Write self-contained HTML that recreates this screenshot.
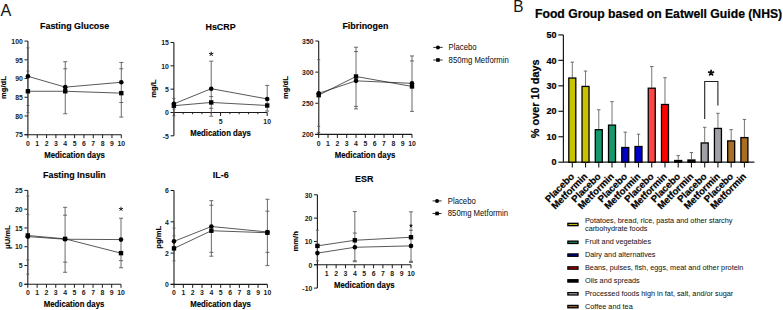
<!DOCTYPE html>
<html><head><meta charset="utf-8"><style>
html,body{margin:0;padding:0;background:#fff;}
body{width:783px;height:310px;overflow:hidden;font-family:"Liberation Sans", sans-serif;}
svg{display:block;}
text{stroke:#000;stroke-width:0.22px;paint-order:stroke;}
text.a{stroke-width:0.12px;}
text[font-weight="normal"]{stroke-width:0.04px;fill:#151515;}
text.tk{stroke-width:0;fill:#1a1a1a;}
</style></head><body>
<svg width="783" height="310" viewBox="0 0 783 310" font-family='"Liberation Sans", sans-serif'>
<rect width="783" height="310" fill="#fff"/>
<text x="0.60" y="16.00" font-size="16.2" font-weight="normal" text-anchor="start" fill="#000" >A</text>
<text x="0" y="0" font-size="15.4" font-weight="normal" text-anchor="start" fill="#000" transform="translate(513.20,12.30) scale(1,1.13)" >B</text>
<text x="0" y="0" font-size="8.9" font-weight="bold" text-anchor="middle" fill="#000" transform="translate(74.60,28.70) scale(1,1.11)" class="a">Fasting Glucose</text>
<text x="0" y="0" font-size="7.6" font-weight="bold" text-anchor="middle" fill="#000" class="a" transform="translate(4.90,87.60) rotate(-90)" dy="1.4">mg/dL</text>
<line x1="27.90" y1="41.10" x2="27.90" y2="134.70" stroke="#1a1a1a" stroke-width="1.1" />
<line x1="24.50" y1="41.10" x2="27.90" y2="41.10" stroke="#1a1a1a" stroke-width="1.0" />
<text x="0" y="0" font-size="6.9" font-weight="bold" text-anchor="end" fill="#000" transform="translate(22.80,43.85) scale(1,1.11)" class="tk">100</text>
<line x1="24.50" y1="59.82" x2="27.90" y2="59.82" stroke="#1a1a1a" stroke-width="1.0" />
<text x="0" y="0" font-size="6.9" font-weight="bold" text-anchor="end" fill="#000" transform="translate(22.80,62.57) scale(1,1.11)" class="tk">95</text>
<line x1="24.50" y1="78.54" x2="27.90" y2="78.54" stroke="#1a1a1a" stroke-width="1.0" />
<text x="0" y="0" font-size="6.9" font-weight="bold" text-anchor="end" fill="#000" transform="translate(22.80,81.29) scale(1,1.11)" class="tk">90</text>
<line x1="24.50" y1="97.26" x2="27.90" y2="97.26" stroke="#1a1a1a" stroke-width="1.0" />
<text x="0" y="0" font-size="6.9" font-weight="bold" text-anchor="end" fill="#000" transform="translate(22.80,100.01) scale(1,1.11)" class="tk">85</text>
<line x1="24.50" y1="115.98" x2="27.90" y2="115.98" stroke="#1a1a1a" stroke-width="1.0" />
<text x="0" y="0" font-size="6.9" font-weight="bold" text-anchor="end" fill="#000" transform="translate(22.80,118.73) scale(1,1.11)" class="tk">80</text>
<line x1="24.50" y1="134.70" x2="27.90" y2="134.70" stroke="#1a1a1a" stroke-width="1.0" />
<text x="0" y="0" font-size="6.9" font-weight="bold" text-anchor="end" fill="#000" transform="translate(22.80,137.45) scale(1,1.11)" class="tk">75</text>
<line x1="24.50" y1="134.70" x2="121.30" y2="134.70" stroke="#1a1a1a" stroke-width="1.1" />
<line x1="27.90" y1="134.70" x2="27.90" y2="138.20" stroke="#1a1a1a" stroke-width="1.0" />
<line x1="37.24" y1="134.70" x2="37.24" y2="138.20" stroke="#1a1a1a" stroke-width="1.0" />
<line x1="46.58" y1="134.70" x2="46.58" y2="138.20" stroke="#1a1a1a" stroke-width="1.0" />
<line x1="55.92" y1="134.70" x2="55.92" y2="138.20" stroke="#1a1a1a" stroke-width="1.0" />
<line x1="65.26" y1="134.70" x2="65.26" y2="138.20" stroke="#1a1a1a" stroke-width="1.0" />
<line x1="74.60" y1="134.70" x2="74.60" y2="138.20" stroke="#1a1a1a" stroke-width="1.0" />
<line x1="83.94" y1="134.70" x2="83.94" y2="138.20" stroke="#1a1a1a" stroke-width="1.0" />
<line x1="93.28" y1="134.70" x2="93.28" y2="138.20" stroke="#1a1a1a" stroke-width="1.0" />
<line x1="102.62" y1="134.70" x2="102.62" y2="138.20" stroke="#1a1a1a" stroke-width="1.0" />
<line x1="111.96" y1="134.70" x2="111.96" y2="138.20" stroke="#1a1a1a" stroke-width="1.0" />
<line x1="121.30" y1="134.70" x2="121.30" y2="138.20" stroke="#1a1a1a" stroke-width="1.0" />
<text x="0" y="0" font-size="6.9" font-weight="bold" text-anchor="middle" fill="#000" transform="translate(27.90,146.40) scale(1,1.11)" class="tk">0</text>
<text x="0" y="0" font-size="6.9" font-weight="bold" text-anchor="middle" fill="#000" transform="translate(37.24,146.40) scale(1,1.11)" class="tk">1</text>
<text x="0" y="0" font-size="6.9" font-weight="bold" text-anchor="middle" fill="#000" transform="translate(46.58,146.40) scale(1,1.11)" class="tk">2</text>
<text x="0" y="0" font-size="6.9" font-weight="bold" text-anchor="middle" fill="#000" transform="translate(55.92,146.40) scale(1,1.11)" class="tk">3</text>
<text x="0" y="0" font-size="6.9" font-weight="bold" text-anchor="middle" fill="#000" transform="translate(65.26,146.40) scale(1,1.11)" class="tk">4</text>
<text x="0" y="0" font-size="6.9" font-weight="bold" text-anchor="middle" fill="#000" transform="translate(74.60,146.40) scale(1,1.11)" class="tk">5</text>
<text x="0" y="0" font-size="6.9" font-weight="bold" text-anchor="middle" fill="#000" transform="translate(83.94,146.40) scale(1,1.11)" class="tk">6</text>
<text x="0" y="0" font-size="6.9" font-weight="bold" text-anchor="middle" fill="#000" transform="translate(93.28,146.40) scale(1,1.11)" class="tk">7</text>
<text x="0" y="0" font-size="6.9" font-weight="bold" text-anchor="middle" fill="#000" transform="translate(102.62,146.40) scale(1,1.11)" class="tk">8</text>
<text x="0" y="0" font-size="6.9" font-weight="bold" text-anchor="middle" fill="#000" transform="translate(111.96,146.40) scale(1,1.11)" class="tk">9</text>
<text x="0" y="0" font-size="6.9" font-weight="bold" text-anchor="middle" fill="#000" transform="translate(121.30,146.40) scale(1,1.11)" class="tk">10</text>
<text x="0" y="0" font-size="7.8" font-weight="bold" text-anchor="middle" fill="#000" transform="translate(74.50,157.80) scale(1,1.11)" class="a">Medication days</text>
<line x1="27.90" y1="47.84" x2="27.90" y2="112.24" stroke="#5a5a5a" stroke-width="0.9" />
<line x1="65.26" y1="61.69" x2="65.26" y2="113.73" stroke="#5a5a5a" stroke-width="0.9" />
<line x1="121.30" y1="62.44" x2="121.30" y2="117.10" stroke="#5a5a5a" stroke-width="0.9" />
<line x1="26.40" y1="47.84" x2="29.40" y2="47.84" stroke="#5a5a5a" stroke-width="0.9" />
<line x1="26.40" y1="71.05" x2="29.40" y2="71.05" stroke="#5a5a5a" stroke-width="0.9" />
<line x1="26.40" y1="105.50" x2="29.40" y2="105.50" stroke="#5a5a5a" stroke-width="0.9" />
<line x1="26.40" y1="112.61" x2="29.40" y2="112.61" stroke="#5a5a5a" stroke-width="0.9" />
<line x1="63.26" y1="61.69" x2="67.26" y2="61.69" stroke="#5a5a5a" stroke-width="0.9" />
<line x1="63.26" y1="68.81" x2="67.26" y2="68.81" stroke="#5a5a5a" stroke-width="0.9" />
<line x1="63.26" y1="113.73" x2="67.26" y2="113.73" stroke="#5a5a5a" stroke-width="0.9" />
<line x1="119.30" y1="62.44" x2="123.30" y2="62.44" stroke="#5a5a5a" stroke-width="0.9" />
<line x1="119.30" y1="68.81" x2="123.30" y2="68.81" stroke="#5a5a5a" stroke-width="0.9" />
<line x1="119.30" y1="102.50" x2="123.30" y2="102.50" stroke="#5a5a5a" stroke-width="0.9" />
<line x1="119.30" y1="117.10" x2="123.30" y2="117.10" stroke="#5a5a5a" stroke-width="0.9" />
<polyline points="27.90,76.29 65.26,87.15 121.30,82.28" fill="none" stroke="#222" stroke-width="0.75"/>
<circle cx="27.90" cy="76.29" r="2.3" fill="#000"/>
<circle cx="65.26" cy="87.15" r="2.3" fill="#000"/>
<circle cx="121.30" cy="82.28" r="2.3" fill="#000"/>
<polyline points="27.90,91.27 65.26,91.27 121.30,93.14" fill="none" stroke="#222" stroke-width="0.75"/>
<rect x="25.70" y="89.07" width="4.4" height="4.4" fill="#000"/>
<rect x="63.06" y="89.07" width="4.4" height="4.4" fill="#000"/>
<rect x="119.10" y="90.94" width="4.4" height="4.4" fill="#000"/>
<text x="0" y="0" font-size="8.9" font-weight="bold" text-anchor="middle" fill="#000" transform="translate(220.55,30.30) scale(1,1.11)" class="a">HsCRP</text>
<text x="0" y="0" font-size="7.6" font-weight="bold" text-anchor="middle" fill="#000" class="a" transform="translate(154.90,88.60) rotate(-90)" dy="1.4">mg/L</text>
<line x1="173.90" y1="42.50" x2="173.90" y2="135.80" stroke="#1a1a1a" stroke-width="1.1" />
<line x1="170.50" y1="42.50" x2="173.90" y2="42.50" stroke="#1a1a1a" stroke-width="1.0" />
<text x="0" y="0" font-size="6.9" font-weight="bold" text-anchor="end" fill="#000" transform="translate(168.80,45.25) scale(1,1.11)" class="tk">15</text>
<line x1="170.50" y1="65.83" x2="173.90" y2="65.83" stroke="#1a1a1a" stroke-width="1.0" />
<text x="0" y="0" font-size="6.9" font-weight="bold" text-anchor="end" fill="#000" transform="translate(168.80,68.58) scale(1,1.11)" class="tk">10</text>
<line x1="170.50" y1="89.15" x2="173.90" y2="89.15" stroke="#1a1a1a" stroke-width="1.0" />
<text x="0" y="0" font-size="6.9" font-weight="bold" text-anchor="end" fill="#000" transform="translate(168.80,91.90) scale(1,1.11)" class="tk">5</text>
<line x1="170.50" y1="112.48" x2="173.90" y2="112.48" stroke="#1a1a1a" stroke-width="1.0" />
<text x="0" y="0" font-size="6.9" font-weight="bold" text-anchor="end" fill="#000" transform="translate(168.80,115.23) scale(1,1.11)" class="tk">0</text>
<line x1="170.50" y1="135.80" x2="173.90" y2="135.80" stroke="#1a1a1a" stroke-width="1.0" />
<text x="0" y="0" font-size="6.9" font-weight="bold" text-anchor="end" fill="#000" transform="translate(168.80,138.55) scale(1,1.11)" class="tk">-5</text>
<line x1="173.90" y1="112.48" x2="267.20" y2="112.48" stroke="#1a1a1a" stroke-width="1.1" />
<line x1="173.90" y1="112.48" x2="173.90" y2="115.98" stroke="#1a1a1a" stroke-width="1.0" />
<line x1="183.23" y1="112.48" x2="183.23" y2="114.28" stroke="#1a1a1a" stroke-width="0.9" />
<line x1="192.56" y1="112.48" x2="192.56" y2="114.28" stroke="#1a1a1a" stroke-width="0.9" />
<line x1="201.89" y1="112.48" x2="201.89" y2="114.28" stroke="#1a1a1a" stroke-width="0.9" />
<line x1="211.22" y1="112.48" x2="211.22" y2="114.28" stroke="#1a1a1a" stroke-width="0.9" />
<line x1="220.55" y1="112.48" x2="220.55" y2="115.98" stroke="#1a1a1a" stroke-width="1.0" />
<line x1="229.88" y1="112.48" x2="229.88" y2="114.28" stroke="#1a1a1a" stroke-width="0.9" />
<line x1="239.21" y1="112.48" x2="239.21" y2="114.28" stroke="#1a1a1a" stroke-width="0.9" />
<line x1="248.54" y1="112.48" x2="248.54" y2="114.28" stroke="#1a1a1a" stroke-width="0.9" />
<line x1="257.87" y1="112.48" x2="257.87" y2="114.28" stroke="#1a1a1a" stroke-width="0.9" />
<line x1="267.20" y1="112.48" x2="267.20" y2="115.98" stroke="#1a1a1a" stroke-width="1.0" />
<text x="0" y="0" font-size="6.9" font-weight="bold" text-anchor="middle" fill="#000" transform="translate(220.55,124.00) scale(1,1.11)" class="tk">5</text>
<text x="0" y="0" font-size="6.9" font-weight="bold" text-anchor="middle" fill="#000" transform="translate(267.20,124.00) scale(1,1.11)" class="tk">10</text>
<text x="0" y="0" font-size="7.8" font-weight="bold" text-anchor="middle" fill="#000" transform="translate(220.50,136.00) scale(1,1.11)" class="a">Medication days</text>
<line x1="173.90" y1="98.48" x2="173.90" y2="116.21" stroke="#5a5a5a" stroke-width="0.9" />
<line x1="211.22" y1="61.16" x2="211.22" y2="116.21" stroke="#5a5a5a" stroke-width="0.9" />
<line x1="267.20" y1="85.42" x2="267.20" y2="111.08" stroke="#5a5a5a" stroke-width="0.9" />
<line x1="172.40" y1="98.48" x2="175.40" y2="98.48" stroke="#5a5a5a" stroke-width="0.9" />
<line x1="172.40" y1="109.21" x2="175.40" y2="109.21" stroke="#5a5a5a" stroke-width="0.9" />
<line x1="172.40" y1="115.74" x2="175.40" y2="115.74" stroke="#5a5a5a" stroke-width="0.9" />
<line x1="209.22" y1="61.16" x2="213.22" y2="61.16" stroke="#5a5a5a" stroke-width="0.9" />
<line x1="209.22" y1="96.61" x2="213.22" y2="96.61" stroke="#5a5a5a" stroke-width="0.9" />
<line x1="209.22" y1="108.28" x2="213.22" y2="108.28" stroke="#5a5a5a" stroke-width="0.9" />
<line x1="209.22" y1="116.21" x2="213.22" y2="116.21" stroke="#5a5a5a" stroke-width="0.9" />
<line x1="265.20" y1="85.42" x2="269.20" y2="85.42" stroke="#5a5a5a" stroke-width="0.9" />
<line x1="265.20" y1="111.08" x2="269.20" y2="111.08" stroke="#5a5a5a" stroke-width="0.9" />
<polyline points="173.90,103.84 211.22,88.68 267.20,98.95" fill="none" stroke="#222" stroke-width="0.75"/>
<circle cx="173.90" cy="103.84" r="2.3" fill="#000"/>
<circle cx="211.22" cy="88.68" r="2.3" fill="#000"/>
<circle cx="267.20" cy="98.95" r="2.3" fill="#000"/>
<polyline points="173.90,105.71 211.22,102.45 267.20,105.48" fill="none" stroke="#222" stroke-width="0.75"/>
<rect x="171.70" y="103.51" width="4.4" height="4.4" fill="#000"/>
<rect x="209.02" y="100.25" width="4.4" height="4.4" fill="#000"/>
<rect x="265.00" y="103.28" width="4.4" height="4.4" fill="#000"/>
<path d="M211.22,54.00L211.22,51.70M211.22,54.00L213.41,53.29M211.22,54.00L212.57,55.86M211.22,54.00L209.87,55.86M211.22,54.00L209.03,53.29" stroke="#111" stroke-width="1.0" stroke-linecap="butt" fill="none"/>
<text x="0" y="0" font-size="8.9" font-weight="bold" text-anchor="middle" fill="#000" transform="translate(365.35,28.80) scale(1,1.11)" class="a">Fibrinogen</text>
<text x="0" y="0" font-size="7.6" font-weight="bold" text-anchor="middle" fill="#000" class="a" transform="translate(286.60,87.60) rotate(-90)" dy="1.4">mg/dL</text>
<line x1="318.70" y1="41.00" x2="318.70" y2="134.40" stroke="#1a1a1a" stroke-width="1.1" />
<line x1="315.30" y1="41.00" x2="318.70" y2="41.00" stroke="#1a1a1a" stroke-width="1.0" />
<text x="0" y="0" font-size="6.9" font-weight="bold" text-anchor="end" fill="#000" transform="translate(313.60,43.75) scale(1,1.11)" class="tk">350</text>
<line x1="315.30" y1="72.13" x2="318.70" y2="72.13" stroke="#1a1a1a" stroke-width="1.0" />
<text x="0" y="0" font-size="6.9" font-weight="bold" text-anchor="end" fill="#000" transform="translate(313.60,74.88) scale(1,1.11)" class="tk">300</text>
<line x1="315.30" y1="103.27" x2="318.70" y2="103.27" stroke="#1a1a1a" stroke-width="1.0" />
<text x="0" y="0" font-size="6.9" font-weight="bold" text-anchor="end" fill="#000" transform="translate(313.60,106.02) scale(1,1.11)" class="tk">250</text>
<line x1="315.30" y1="134.40" x2="318.70" y2="134.40" stroke="#1a1a1a" stroke-width="1.0" />
<text x="0" y="0" font-size="6.9" font-weight="bold" text-anchor="end" fill="#000" transform="translate(313.60,137.15) scale(1,1.11)" class="tk">200</text>
<line x1="315.30" y1="134.40" x2="412.00" y2="134.40" stroke="#1a1a1a" stroke-width="1.1" />
<line x1="318.70" y1="134.40" x2="318.70" y2="137.90" stroke="#1a1a1a" stroke-width="1.0" />
<line x1="328.03" y1="134.40" x2="328.03" y2="137.90" stroke="#1a1a1a" stroke-width="1.0" />
<line x1="337.36" y1="134.40" x2="337.36" y2="137.90" stroke="#1a1a1a" stroke-width="1.0" />
<line x1="346.69" y1="134.40" x2="346.69" y2="137.90" stroke="#1a1a1a" stroke-width="1.0" />
<line x1="356.02" y1="134.40" x2="356.02" y2="137.90" stroke="#1a1a1a" stroke-width="1.0" />
<line x1="365.35" y1="134.40" x2="365.35" y2="137.90" stroke="#1a1a1a" stroke-width="1.0" />
<line x1="374.68" y1="134.40" x2="374.68" y2="137.90" stroke="#1a1a1a" stroke-width="1.0" />
<line x1="384.01" y1="134.40" x2="384.01" y2="137.90" stroke="#1a1a1a" stroke-width="1.0" />
<line x1="393.34" y1="134.40" x2="393.34" y2="137.90" stroke="#1a1a1a" stroke-width="1.0" />
<line x1="402.67" y1="134.40" x2="402.67" y2="137.90" stroke="#1a1a1a" stroke-width="1.0" />
<line x1="412.00" y1="134.40" x2="412.00" y2="137.90" stroke="#1a1a1a" stroke-width="1.0" />
<text x="0" y="0" font-size="6.9" font-weight="bold" text-anchor="middle" fill="#000" transform="translate(318.70,146.40) scale(1,1.11)" class="tk">0</text>
<text x="0" y="0" font-size="6.9" font-weight="bold" text-anchor="middle" fill="#000" transform="translate(328.03,146.40) scale(1,1.11)" class="tk">1</text>
<text x="0" y="0" font-size="6.9" font-weight="bold" text-anchor="middle" fill="#000" transform="translate(337.36,146.40) scale(1,1.11)" class="tk">2</text>
<text x="0" y="0" font-size="6.9" font-weight="bold" text-anchor="middle" fill="#000" transform="translate(346.69,146.40) scale(1,1.11)" class="tk">3</text>
<text x="0" y="0" font-size="6.9" font-weight="bold" text-anchor="middle" fill="#000" transform="translate(356.02,146.40) scale(1,1.11)" class="tk">4</text>
<text x="0" y="0" font-size="6.9" font-weight="bold" text-anchor="middle" fill="#000" transform="translate(365.35,146.40) scale(1,1.11)" class="tk">5</text>
<text x="0" y="0" font-size="6.9" font-weight="bold" text-anchor="middle" fill="#000" transform="translate(374.68,146.40) scale(1,1.11)" class="tk">6</text>
<text x="0" y="0" font-size="6.9" font-weight="bold" text-anchor="middle" fill="#000" transform="translate(384.01,146.40) scale(1,1.11)" class="tk">7</text>
<text x="0" y="0" font-size="6.9" font-weight="bold" text-anchor="middle" fill="#000" transform="translate(393.34,146.40) scale(1,1.11)" class="tk">8</text>
<text x="0" y="0" font-size="6.9" font-weight="bold" text-anchor="middle" fill="#000" transform="translate(402.67,146.40) scale(1,1.11)" class="tk">9</text>
<text x="0" y="0" font-size="6.9" font-weight="bold" text-anchor="middle" fill="#000" transform="translate(412.00,146.40) scale(1,1.11)" class="tk">10</text>
<text x="0" y="0" font-size="7.8" font-weight="bold" text-anchor="middle" fill="#000" transform="translate(365.00,158.00) scale(1,1.11)" class="a">Medication days</text>
<line x1="318.70" y1="59.68" x2="318.70" y2="132.53" stroke="#5a5a5a" stroke-width="0.9" />
<line x1="356.02" y1="47.23" x2="356.02" y2="108.87" stroke="#5a5a5a" stroke-width="0.9" />
<line x1="412.00" y1="55.94" x2="412.00" y2="111.36" stroke="#5a5a5a" stroke-width="0.9" />
<line x1="317.20" y1="59.68" x2="320.20" y2="59.68" stroke="#5a5a5a" stroke-width="0.9" />
<line x1="317.20" y1="126.31" x2="320.20" y2="126.31" stroke="#5a5a5a" stroke-width="0.9" />
<line x1="317.20" y1="132.53" x2="320.20" y2="132.53" stroke="#5a5a5a" stroke-width="0.9" />
<line x1="354.02" y1="47.23" x2="358.02" y2="47.23" stroke="#5a5a5a" stroke-width="0.9" />
<line x1="354.02" y1="51.59" x2="358.02" y2="51.59" stroke="#5a5a5a" stroke-width="0.9" />
<line x1="354.02" y1="106.38" x2="358.02" y2="106.38" stroke="#5a5a5a" stroke-width="0.9" />
<line x1="354.02" y1="108.87" x2="358.02" y2="108.87" stroke="#5a5a5a" stroke-width="0.9" />
<line x1="410.00" y1="55.94" x2="414.00" y2="55.94" stroke="#5a5a5a" stroke-width="0.9" />
<line x1="410.00" y1="60.93" x2="414.00" y2="60.93" stroke="#5a5a5a" stroke-width="0.9" />
<line x1="410.00" y1="111.36" x2="414.00" y2="111.36" stroke="#5a5a5a" stroke-width="0.9" />
<polyline points="318.70,93.30 356.02,80.85 412.00,83.34" fill="none" stroke="#222" stroke-width="0.75"/>
<circle cx="318.70" cy="93.30" r="2.3" fill="#000"/>
<circle cx="356.02" cy="80.85" r="2.3" fill="#000"/>
<circle cx="412.00" cy="83.34" r="2.3" fill="#000"/>
<polyline points="318.70,95.17 356.02,76.49 412.00,86.45" fill="none" stroke="#222" stroke-width="0.75"/>
<rect x="316.50" y="92.97" width="4.4" height="4.4" fill="#000"/>
<rect x="353.82" y="74.29" width="4.4" height="4.4" fill="#000"/>
<rect x="409.80" y="84.25" width="4.4" height="4.4" fill="#000"/>
<text x="0" y="0" font-size="8.9" font-weight="bold" text-anchor="middle" fill="#000" transform="translate(74.40,178.00) scale(1,1.11)" class="a">Fasting Insulin</text>
<text x="0" y="0" font-size="7.6" font-weight="bold" text-anchor="middle" fill="#000" class="a" transform="translate(8.40,237.10) rotate(-90)" dy="1.4">&#956;U/mL</text>
<line x1="27.80" y1="190.40" x2="27.80" y2="284.30" stroke="#1a1a1a" stroke-width="1.1" />
<line x1="24.40" y1="190.40" x2="27.80" y2="190.40" stroke="#1a1a1a" stroke-width="1.0" />
<text x="0" y="0" font-size="6.9" font-weight="bold" text-anchor="end" fill="#000" transform="translate(22.70,193.15) scale(1,1.11)" class="tk">25</text>
<line x1="24.40" y1="209.18" x2="27.80" y2="209.18" stroke="#1a1a1a" stroke-width="1.0" />
<text x="0" y="0" font-size="6.9" font-weight="bold" text-anchor="end" fill="#000" transform="translate(22.70,211.93) scale(1,1.11)" class="tk">20</text>
<line x1="24.40" y1="227.96" x2="27.80" y2="227.96" stroke="#1a1a1a" stroke-width="1.0" />
<text x="0" y="0" font-size="6.9" font-weight="bold" text-anchor="end" fill="#000" transform="translate(22.70,230.71) scale(1,1.11)" class="tk">15</text>
<line x1="24.40" y1="246.74" x2="27.80" y2="246.74" stroke="#1a1a1a" stroke-width="1.0" />
<text x="0" y="0" font-size="6.9" font-weight="bold" text-anchor="end" fill="#000" transform="translate(22.70,249.49) scale(1,1.11)" class="tk">10</text>
<line x1="24.40" y1="265.52" x2="27.80" y2="265.52" stroke="#1a1a1a" stroke-width="1.0" />
<text x="0" y="0" font-size="6.9" font-weight="bold" text-anchor="end" fill="#000" transform="translate(22.70,268.27) scale(1,1.11)" class="tk">5</text>
<line x1="24.40" y1="284.30" x2="27.80" y2="284.30" stroke="#1a1a1a" stroke-width="1.0" />
<text x="0" y="0" font-size="6.9" font-weight="bold" text-anchor="end" fill="#000" transform="translate(22.70,287.05) scale(1,1.11)" class="tk">0</text>
<line x1="24.40" y1="284.30" x2="121.00" y2="284.30" stroke="#1a1a1a" stroke-width="1.1" />
<line x1="27.80" y1="284.30" x2="27.80" y2="287.80" stroke="#1a1a1a" stroke-width="1.0" />
<line x1="37.12" y1="284.30" x2="37.12" y2="287.80" stroke="#1a1a1a" stroke-width="1.0" />
<line x1="46.44" y1="284.30" x2="46.44" y2="287.80" stroke="#1a1a1a" stroke-width="1.0" />
<line x1="55.76" y1="284.30" x2="55.76" y2="287.80" stroke="#1a1a1a" stroke-width="1.0" />
<line x1="65.08" y1="284.30" x2="65.08" y2="287.80" stroke="#1a1a1a" stroke-width="1.0" />
<line x1="74.40" y1="284.30" x2="74.40" y2="287.80" stroke="#1a1a1a" stroke-width="1.0" />
<line x1="83.72" y1="284.30" x2="83.72" y2="287.80" stroke="#1a1a1a" stroke-width="1.0" />
<line x1="93.04" y1="284.30" x2="93.04" y2="287.80" stroke="#1a1a1a" stroke-width="1.0" />
<line x1="102.36" y1="284.30" x2="102.36" y2="287.80" stroke="#1a1a1a" stroke-width="1.0" />
<line x1="111.68" y1="284.30" x2="111.68" y2="287.80" stroke="#1a1a1a" stroke-width="1.0" />
<line x1="121.00" y1="284.30" x2="121.00" y2="287.80" stroke="#1a1a1a" stroke-width="1.0" />
<text x="0" y="0" font-size="6.9" font-weight="bold" text-anchor="middle" fill="#000" transform="translate(27.80,295.30) scale(1,1.11)" class="tk">0</text>
<text x="0" y="0" font-size="6.9" font-weight="bold" text-anchor="middle" fill="#000" transform="translate(37.12,295.30) scale(1,1.11)" class="tk">1</text>
<text x="0" y="0" font-size="6.9" font-weight="bold" text-anchor="middle" fill="#000" transform="translate(46.44,295.30) scale(1,1.11)" class="tk">2</text>
<text x="0" y="0" font-size="6.9" font-weight="bold" text-anchor="middle" fill="#000" transform="translate(55.76,295.30) scale(1,1.11)" class="tk">3</text>
<text x="0" y="0" font-size="6.9" font-weight="bold" text-anchor="middle" fill="#000" transform="translate(65.08,295.30) scale(1,1.11)" class="tk">4</text>
<text x="0" y="0" font-size="6.9" font-weight="bold" text-anchor="middle" fill="#000" transform="translate(74.40,295.30) scale(1,1.11)" class="tk">5</text>
<text x="0" y="0" font-size="6.9" font-weight="bold" text-anchor="middle" fill="#000" transform="translate(83.72,295.30) scale(1,1.11)" class="tk">6</text>
<text x="0" y="0" font-size="6.9" font-weight="bold" text-anchor="middle" fill="#000" transform="translate(93.04,295.30) scale(1,1.11)" class="tk">7</text>
<text x="0" y="0" font-size="6.9" font-weight="bold" text-anchor="middle" fill="#000" transform="translate(102.36,295.30) scale(1,1.11)" class="tk">8</text>
<text x="0" y="0" font-size="6.9" font-weight="bold" text-anchor="middle" fill="#000" transform="translate(111.68,295.30) scale(1,1.11)" class="tk">9</text>
<text x="0" y="0" font-size="6.9" font-weight="bold" text-anchor="middle" fill="#000" transform="translate(121.00,295.30) scale(1,1.11)" class="tk">10</text>
<text x="0" y="0" font-size="7.8" font-weight="bold" text-anchor="middle" fill="#000" transform="translate(74.00,307.00) scale(1,1.11)" class="a">Medication days</text>
<line x1="27.80" y1="196.03" x2="27.80" y2="274.16" stroke="#5a5a5a" stroke-width="0.9" />
<line x1="65.08" y1="207.30" x2="65.08" y2="272.28" stroke="#5a5a5a" stroke-width="0.9" />
<line x1="121.00" y1="218.19" x2="121.00" y2="267.77" stroke="#5a5a5a" stroke-width="0.9" />
<line x1="26.30" y1="196.03" x2="29.30" y2="196.03" stroke="#5a5a5a" stroke-width="0.9" />
<line x1="26.30" y1="214.44" x2="29.30" y2="214.44" stroke="#5a5a5a" stroke-width="0.9" />
<line x1="26.30" y1="259.89" x2="29.30" y2="259.89" stroke="#5a5a5a" stroke-width="0.9" />
<line x1="26.30" y1="274.16" x2="29.30" y2="274.16" stroke="#5a5a5a" stroke-width="0.9" />
<line x1="63.08" y1="207.30" x2="67.08" y2="207.30" stroke="#5a5a5a" stroke-width="0.9" />
<line x1="63.08" y1="215.19" x2="67.08" y2="215.19" stroke="#5a5a5a" stroke-width="0.9" />
<line x1="63.08" y1="262.14" x2="67.08" y2="262.14" stroke="#5a5a5a" stroke-width="0.9" />
<line x1="63.08" y1="272.28" x2="67.08" y2="272.28" stroke="#5a5a5a" stroke-width="0.9" />
<line x1="119.00" y1="218.19" x2="123.00" y2="218.19" stroke="#5a5a5a" stroke-width="0.9" />
<line x1="119.00" y1="260.64" x2="123.00" y2="260.64" stroke="#5a5a5a" stroke-width="0.9" />
<line x1="119.00" y1="267.77" x2="123.00" y2="267.77" stroke="#5a5a5a" stroke-width="0.9" />
<polyline points="27.80,236.60 65.08,239.23 121.00,239.60" fill="none" stroke="#222" stroke-width="0.75"/>
<circle cx="27.80" cy="236.60" r="2.3" fill="#000"/>
<circle cx="65.08" cy="239.23" r="2.3" fill="#000"/>
<circle cx="121.00" cy="239.60" r="2.3" fill="#000"/>
<polyline points="27.80,235.47 65.08,238.85 121.00,253.13" fill="none" stroke="#222" stroke-width="0.75"/>
<rect x="25.60" y="233.27" width="4.4" height="4.4" fill="#000"/>
<rect x="62.88" y="236.65" width="4.4" height="4.4" fill="#000"/>
<rect x="118.80" y="250.93" width="4.4" height="4.4" fill="#000"/>
<path d="M121.00,209.00L121.00,206.80M121.00,209.00L123.09,208.32M121.00,209.00L122.29,210.78M121.00,209.00L119.71,210.78M121.00,209.00L118.91,208.32" stroke="#111" stroke-width="0.9" stroke-linecap="butt" fill="none"/>
<text x="0" y="0" font-size="8.9" font-weight="bold" text-anchor="middle" fill="#000" transform="translate(220.70,178.00) scale(1,1.11)" class="a">IL-6</text>
<text x="0" y="0" font-size="7.6" font-weight="bold" text-anchor="middle" fill="#000" class="a" transform="translate(159.20,237.30) rotate(-90)" dy="1.4">pg/mL</text>
<line x1="174.00" y1="190.50" x2="174.00" y2="284.40" stroke="#1a1a1a" stroke-width="1.1" />
<line x1="170.60" y1="190.50" x2="174.00" y2="190.50" stroke="#1a1a1a" stroke-width="1.0" />
<text x="0" y="0" font-size="6.9" font-weight="bold" text-anchor="end" fill="#000" transform="translate(168.90,193.25) scale(1,1.11)" class="tk">6</text>
<line x1="170.60" y1="221.80" x2="174.00" y2="221.80" stroke="#1a1a1a" stroke-width="1.0" />
<text x="0" y="0" font-size="6.9" font-weight="bold" text-anchor="end" fill="#000" transform="translate(168.90,224.55) scale(1,1.11)" class="tk">4</text>
<line x1="170.60" y1="253.10" x2="174.00" y2="253.10" stroke="#1a1a1a" stroke-width="1.0" />
<text x="0" y="0" font-size="6.9" font-weight="bold" text-anchor="end" fill="#000" transform="translate(168.90,255.85) scale(1,1.11)" class="tk">2</text>
<line x1="170.60" y1="284.40" x2="174.00" y2="284.40" stroke="#1a1a1a" stroke-width="1.0" />
<text x="0" y="0" font-size="6.9" font-weight="bold" text-anchor="end" fill="#000" transform="translate(168.90,287.15) scale(1,1.11)" class="tk">0</text>
<line x1="170.60" y1="284.40" x2="267.40" y2="284.40" stroke="#1a1a1a" stroke-width="1.1" />
<line x1="174.00" y1="284.40" x2="174.00" y2="287.90" stroke="#1a1a1a" stroke-width="1.0" />
<line x1="183.34" y1="284.40" x2="183.34" y2="287.90" stroke="#1a1a1a" stroke-width="1.0" />
<line x1="192.68" y1="284.40" x2="192.68" y2="287.90" stroke="#1a1a1a" stroke-width="1.0" />
<line x1="202.02" y1="284.40" x2="202.02" y2="287.90" stroke="#1a1a1a" stroke-width="1.0" />
<line x1="211.36" y1="284.40" x2="211.36" y2="287.90" stroke="#1a1a1a" stroke-width="1.0" />
<line x1="220.70" y1="284.40" x2="220.70" y2="287.90" stroke="#1a1a1a" stroke-width="1.0" />
<line x1="230.04" y1="284.40" x2="230.04" y2="287.90" stroke="#1a1a1a" stroke-width="1.0" />
<line x1="239.38" y1="284.40" x2="239.38" y2="287.90" stroke="#1a1a1a" stroke-width="1.0" />
<line x1="248.72" y1="284.40" x2="248.72" y2="287.90" stroke="#1a1a1a" stroke-width="1.0" />
<line x1="258.06" y1="284.40" x2="258.06" y2="287.90" stroke="#1a1a1a" stroke-width="1.0" />
<line x1="267.40" y1="284.40" x2="267.40" y2="287.90" stroke="#1a1a1a" stroke-width="1.0" />
<text x="0" y="0" font-size="6.9" font-weight="bold" text-anchor="middle" fill="#000" transform="translate(174.00,295.30) scale(1,1.11)" class="tk">0</text>
<text x="0" y="0" font-size="6.9" font-weight="bold" text-anchor="middle" fill="#000" transform="translate(183.34,295.30) scale(1,1.11)" class="tk">1</text>
<text x="0" y="0" font-size="6.9" font-weight="bold" text-anchor="middle" fill="#000" transform="translate(192.68,295.30) scale(1,1.11)" class="tk">2</text>
<text x="0" y="0" font-size="6.9" font-weight="bold" text-anchor="middle" fill="#000" transform="translate(202.02,295.30) scale(1,1.11)" class="tk">3</text>
<text x="0" y="0" font-size="6.9" font-weight="bold" text-anchor="middle" fill="#000" transform="translate(211.36,295.30) scale(1,1.11)" class="tk">4</text>
<text x="0" y="0" font-size="6.9" font-weight="bold" text-anchor="middle" fill="#000" transform="translate(220.70,295.30) scale(1,1.11)" class="tk">5</text>
<text x="0" y="0" font-size="6.9" font-weight="bold" text-anchor="middle" fill="#000" transform="translate(230.04,295.30) scale(1,1.11)" class="tk">6</text>
<text x="0" y="0" font-size="6.9" font-weight="bold" text-anchor="middle" fill="#000" transform="translate(239.38,295.30) scale(1,1.11)" class="tk">7</text>
<text x="0" y="0" font-size="6.9" font-weight="bold" text-anchor="middle" fill="#000" transform="translate(248.72,295.30) scale(1,1.11)" class="tk">8</text>
<text x="0" y="0" font-size="6.9" font-weight="bold" text-anchor="middle" fill="#000" transform="translate(258.06,295.30) scale(1,1.11)" class="tk">9</text>
<text x="0" y="0" font-size="6.9" font-weight="bold" text-anchor="middle" fill="#000" transform="translate(267.40,295.30) scale(1,1.11)" class="tk">10</text>
<text x="0" y="0" font-size="7.8" font-weight="bold" text-anchor="middle" fill="#000" transform="translate(220.50,307.00) scale(1,1.11)" class="a">Medication days</text>
<line x1="174.00" y1="221.80" x2="174.00" y2="260.92" stroke="#5a5a5a" stroke-width="0.9" />
<line x1="211.36" y1="200.67" x2="211.36" y2="256.23" stroke="#5a5a5a" stroke-width="0.9" />
<line x1="267.40" y1="199.26" x2="267.40" y2="265.62" stroke="#5a5a5a" stroke-width="0.9" />
<line x1="172.50" y1="228.06" x2="175.50" y2="228.06" stroke="#5a5a5a" stroke-width="0.9" />
<line x1="172.50" y1="235.88" x2="175.50" y2="235.88" stroke="#5a5a5a" stroke-width="0.9" />
<line x1="172.50" y1="260.92" x2="175.50" y2="260.92" stroke="#5a5a5a" stroke-width="0.9" />
<line x1="209.36" y1="200.67" x2="213.36" y2="200.67" stroke="#5a5a5a" stroke-width="0.9" />
<line x1="209.36" y1="205.21" x2="213.36" y2="205.21" stroke="#5a5a5a" stroke-width="0.9" />
<line x1="209.36" y1="252.32" x2="213.36" y2="252.32" stroke="#5a5a5a" stroke-width="0.9" />
<line x1="209.36" y1="256.23" x2="213.36" y2="256.23" stroke="#5a5a5a" stroke-width="0.9" />
<line x1="265.40" y1="199.26" x2="269.40" y2="199.26" stroke="#5a5a5a" stroke-width="0.9" />
<line x1="265.40" y1="211.16" x2="269.40" y2="211.16" stroke="#5a5a5a" stroke-width="0.9" />
<line x1="265.40" y1="252.32" x2="269.40" y2="252.32" stroke="#5a5a5a" stroke-width="0.9" />
<line x1="265.40" y1="265.62" x2="269.40" y2="265.62" stroke="#5a5a5a" stroke-width="0.9" />
<polyline points="174.00,241.36 211.36,226.50 267.40,231.97" fill="none" stroke="#222" stroke-width="0.75"/>
<circle cx="174.00" cy="241.36" r="2.3" fill="#000"/>
<circle cx="211.36" cy="226.50" r="2.3" fill="#000"/>
<circle cx="267.40" cy="231.97" r="2.3" fill="#000"/>
<polyline points="174.00,248.41 211.36,230.72 267.40,232.75" fill="none" stroke="#222" stroke-width="0.75"/>
<rect x="171.80" y="246.21" width="4.4" height="4.4" fill="#000"/>
<rect x="209.16" y="228.52" width="4.4" height="4.4" fill="#000"/>
<rect x="265.20" y="230.56" width="4.4" height="4.4" fill="#000"/>
<text x="0" y="0" font-size="8.9" font-weight="bold" text-anchor="middle" fill="#000" transform="translate(364.20,182.20) scale(1,1.11)" class="a">ESR</text>
<text x="0" y="0" font-size="7.6" font-weight="bold" text-anchor="middle" fill="#000" class="a" transform="translate(296.20,241.30) rotate(-90)" dy="1.4">mm/h</text>
<line x1="317.40" y1="194.80" x2="317.40" y2="288.10" stroke="#1a1a1a" stroke-width="1.1" />
<line x1="314.00" y1="194.80" x2="317.40" y2="194.80" stroke="#1a1a1a" stroke-width="1.0" />
<text x="0" y="0" font-size="6.9" font-weight="bold" text-anchor="end" fill="#000" transform="translate(312.30,197.55) scale(1,1.11)" class="tk">30</text>
<line x1="314.00" y1="218.12" x2="317.40" y2="218.12" stroke="#1a1a1a" stroke-width="1.0" />
<text x="0" y="0" font-size="6.9" font-weight="bold" text-anchor="end" fill="#000" transform="translate(312.30,220.88) scale(1,1.11)" class="tk">20</text>
<line x1="314.00" y1="241.45" x2="317.40" y2="241.45" stroke="#1a1a1a" stroke-width="1.0" />
<text x="0" y="0" font-size="6.9" font-weight="bold" text-anchor="end" fill="#000" transform="translate(312.30,244.20) scale(1,1.11)" class="tk">10</text>
<line x1="314.00" y1="264.78" x2="317.40" y2="264.78" stroke="#1a1a1a" stroke-width="1.0" />
<text x="0" y="0" font-size="6.9" font-weight="bold" text-anchor="end" fill="#000" transform="translate(312.30,267.53) scale(1,1.11)" class="tk">0</text>
<line x1="314.00" y1="288.10" x2="317.40" y2="288.10" stroke="#1a1a1a" stroke-width="1.0" />
<text x="0" y="0" font-size="6.9" font-weight="bold" text-anchor="end" fill="#000" transform="translate(312.30,290.85) scale(1,1.11)" class="tk">-10</text>
<line x1="314.00" y1="264.78" x2="411.00" y2="264.78" stroke="#1a1a1a" stroke-width="1.1" />
<line x1="317.40" y1="264.78" x2="317.40" y2="268.28" stroke="#1a1a1a" stroke-width="1.0" />
<line x1="326.76" y1="264.78" x2="326.76" y2="268.28" stroke="#1a1a1a" stroke-width="1.0" />
<line x1="336.12" y1="264.78" x2="336.12" y2="268.28" stroke="#1a1a1a" stroke-width="1.0" />
<line x1="345.48" y1="264.78" x2="345.48" y2="268.28" stroke="#1a1a1a" stroke-width="1.0" />
<line x1="354.84" y1="264.78" x2="354.84" y2="268.28" stroke="#1a1a1a" stroke-width="1.0" />
<line x1="364.20" y1="264.78" x2="364.20" y2="268.28" stroke="#1a1a1a" stroke-width="1.0" />
<line x1="373.56" y1="264.78" x2="373.56" y2="268.28" stroke="#1a1a1a" stroke-width="1.0" />
<line x1="382.92" y1="264.78" x2="382.92" y2="268.28" stroke="#1a1a1a" stroke-width="1.0" />
<line x1="392.28" y1="264.78" x2="392.28" y2="268.28" stroke="#1a1a1a" stroke-width="1.0" />
<line x1="401.64" y1="264.78" x2="401.64" y2="268.28" stroke="#1a1a1a" stroke-width="1.0" />
<line x1="411.00" y1="264.78" x2="411.00" y2="268.28" stroke="#1a1a1a" stroke-width="1.0" />
<text x="0" y="0" font-size="6.9" font-weight="bold" text-anchor="middle" fill="#000" transform="translate(326.76,276.40) scale(1,1.11)" class="tk">1</text>
<text x="0" y="0" font-size="6.9" font-weight="bold" text-anchor="middle" fill="#000" transform="translate(336.12,276.40) scale(1,1.11)" class="tk">2</text>
<text x="0" y="0" font-size="6.9" font-weight="bold" text-anchor="middle" fill="#000" transform="translate(345.48,276.40) scale(1,1.11)" class="tk">3</text>
<text x="0" y="0" font-size="6.9" font-weight="bold" text-anchor="middle" fill="#000" transform="translate(354.84,276.40) scale(1,1.11)" class="tk">4</text>
<text x="0" y="0" font-size="6.9" font-weight="bold" text-anchor="middle" fill="#000" transform="translate(364.20,276.40) scale(1,1.11)" class="tk">5</text>
<text x="0" y="0" font-size="6.9" font-weight="bold" text-anchor="middle" fill="#000" transform="translate(373.56,276.40) scale(1,1.11)" class="tk">6</text>
<text x="0" y="0" font-size="6.9" font-weight="bold" text-anchor="middle" fill="#000" transform="translate(382.92,276.40) scale(1,1.11)" class="tk">7</text>
<text x="0" y="0" font-size="6.9" font-weight="bold" text-anchor="middle" fill="#000" transform="translate(392.28,276.40) scale(1,1.11)" class="tk">8</text>
<text x="0" y="0" font-size="6.9" font-weight="bold" text-anchor="middle" fill="#000" transform="translate(401.64,276.40) scale(1,1.11)" class="tk">9</text>
<text x="0" y="0" font-size="6.9" font-weight="bold" text-anchor="middle" fill="#000" transform="translate(411.00,276.40) scale(1,1.11)" class="tk">10</text>
<text x="0" y="0" font-size="7.8" font-weight="bold" text-anchor="middle" fill="#000" transform="translate(364.30,288.00) scale(1,1.11)" class="a">Medication days</text>
<line x1="317.40" y1="230.25" x2="317.40" y2="260.81" stroke="#5a5a5a" stroke-width="0.9" />
<line x1="354.84" y1="211.59" x2="354.84" y2="261.74" stroke="#5a5a5a" stroke-width="0.9" />
<line x1="411.00" y1="211.83" x2="411.00" y2="262.44" stroke="#5a5a5a" stroke-width="0.9" />
<line x1="315.90" y1="230.25" x2="318.90" y2="230.25" stroke="#5a5a5a" stroke-width="0.9" />
<line x1="315.90" y1="260.81" x2="318.90" y2="260.81" stroke="#5a5a5a" stroke-width="0.9" />
<line x1="352.84" y1="211.59" x2="356.84" y2="211.59" stroke="#5a5a5a" stroke-width="0.9" />
<line x1="352.84" y1="233.05" x2="356.84" y2="233.05" stroke="#5a5a5a" stroke-width="0.9" />
<line x1="352.84" y1="260.81" x2="356.84" y2="260.81" stroke="#5a5a5a" stroke-width="0.9" />
<line x1="352.84" y1="261.74" x2="356.84" y2="261.74" stroke="#5a5a5a" stroke-width="0.9" />
<line x1="409.00" y1="211.83" x2="413.00" y2="211.83" stroke="#5a5a5a" stroke-width="0.9" />
<line x1="409.00" y1="230.25" x2="413.00" y2="230.25" stroke="#5a5a5a" stroke-width="0.9" />
<line x1="409.00" y1="261.28" x2="413.00" y2="261.28" stroke="#5a5a5a" stroke-width="0.9" />
<line x1="409.00" y1="262.44" x2="413.00" y2="262.44" stroke="#5a5a5a" stroke-width="0.9" />
<polyline points="317.40,253.11 354.84,247.28 411.00,245.88" fill="none" stroke="#222" stroke-width="0.75"/>
<circle cx="317.40" cy="253.11" r="2.3" fill="#000"/>
<circle cx="354.84" cy="247.28" r="2.3" fill="#000"/>
<circle cx="411.00" cy="245.88" r="2.3" fill="#000"/>
<polyline points="317.40,245.88 354.84,240.28 411.00,237.25" fill="none" stroke="#222" stroke-width="0.75"/>
<rect x="315.20" y="243.68" width="4.4" height="4.4" fill="#000"/>
<rect x="352.64" y="238.08" width="4.4" height="4.4" fill="#000"/>
<rect x="408.80" y="235.05" width="4.4" height="4.4" fill="#000"/>
<path d="M411.00,225.80L411.00,224.10M411.00,225.80L412.62,225.27M411.00,225.80L412.00,227.18M411.00,225.80L410.00,227.18M411.00,225.80L409.38,225.27" stroke="#111" stroke-width="0.9" stroke-linecap="butt" fill="none"/>
<line x1="433.20" y1="47.40" x2="442.70" y2="47.40" stroke="#222" stroke-width="0.9" />
<circle cx="437.95" cy="47.40" r="2.0" fill="#000"/>
<text x="0" y="0" font-size="7.75" font-weight="normal" text-anchor="start" fill="#000" transform="translate(448.60,50.10) scale(1,1.11)" >Placebo</text>
<line x1="433.20" y1="60.00" x2="442.70" y2="60.00" stroke="#222" stroke-width="0.9" />
<rect x="436.15" y="58.20" width="3.6" height="3.6" fill="#000"/>
<text x="0" y="0" font-size="7.75" font-weight="normal" text-anchor="start" fill="#000" transform="translate(448.60,62.70) scale(1,1.11)" >850mg Metformin</text>
<line x1="432.50" y1="200.90" x2="441.60" y2="200.90" stroke="#222" stroke-width="0.9" />
<circle cx="437.05" cy="200.90" r="2.0" fill="#000"/>
<text x="0" y="0" font-size="7.75" font-weight="normal" text-anchor="start" fill="#000" transform="translate(447.80,203.60) scale(1,1.11)" >Placebo</text>
<line x1="432.50" y1="213.50" x2="441.60" y2="213.50" stroke="#222" stroke-width="0.9" />
<rect x="435.25" y="211.70" width="3.6" height="3.6" fill="#000"/>
<text x="0" y="0" font-size="7.75" font-weight="normal" text-anchor="start" fill="#000" transform="translate(447.80,216.20) scale(1,1.11)" >850mg Metformin</text>
<text x="535.00" y="17.70" font-size="12.2" font-weight="bold" text-anchor="start" fill="#000" >Food Group based on Eatwell Guide (NHS)</text>
<text x="0" y="0" font-size="10.9" font-weight="bold" text-anchor="middle" fill="#000" transform="translate(535.0,98.8) rotate(-90)" dy="3.8">% over 10 days</text>
<line x1="563.40" y1="34.90" x2="563.40" y2="162.20" stroke="#1a1a1a" stroke-width="1.2" />
<line x1="558.40" y1="162.20" x2="563.40" y2="162.20" stroke="#1a1a1a" stroke-width="1.2" />
<text x="556.50" y="165.40" font-size="9.0" font-weight="bold" text-anchor="end" fill="#000" >0</text>
<line x1="558.40" y1="136.74" x2="563.40" y2="136.74" stroke="#1a1a1a" stroke-width="1.2" />
<text x="556.50" y="139.94" font-size="9.0" font-weight="bold" text-anchor="end" fill="#000" >10</text>
<line x1="558.40" y1="111.28" x2="563.40" y2="111.28" stroke="#1a1a1a" stroke-width="1.2" />
<text x="556.50" y="114.48" font-size="9.0" font-weight="bold" text-anchor="end" fill="#000" >20</text>
<line x1="558.40" y1="85.82" x2="563.40" y2="85.82" stroke="#1a1a1a" stroke-width="1.2" />
<text x="556.50" y="89.02" font-size="9.0" font-weight="bold" text-anchor="end" fill="#000" >30</text>
<line x1="558.40" y1="60.36" x2="563.40" y2="60.36" stroke="#1a1a1a" stroke-width="1.2" />
<text x="556.50" y="63.56" font-size="9.0" font-weight="bold" text-anchor="end" fill="#000" >40</text>
<line x1="558.40" y1="34.90" x2="563.40" y2="34.90" stroke="#1a1a1a" stroke-width="1.2" />
<text x="556.50" y="38.10" font-size="9.0" font-weight="bold" text-anchor="end" fill="#000" >50</text>
<line x1="563.40" y1="162.20" x2="754.40" y2="162.20" stroke="#1a1a1a" stroke-width="1.2" />
<line x1="572.30" y1="62.14" x2="572.30" y2="77.42" stroke="#666" stroke-width="0.9" />
<line x1="570.60" y1="62.14" x2="574.00" y2="62.14" stroke="#666" stroke-width="0.95" />
<rect x="568.80" y="78.02" width="7.00" height="84.18" fill="#c9c200" stroke="#000" stroke-width="1.3"/>
<line x1="572.30" y1="162.20" x2="572.30" y2="167.50" stroke="#1a1a1a" stroke-width="1.1" />
<text x="0" y="0" font-size="9.6" font-weight="bold" text-anchor="end" fill="#000" transform="translate(574.90,177.00) rotate(-45)">Placebo</text>
<line x1="585.54" y1="71.05" x2="585.54" y2="85.82" stroke="#666" stroke-width="0.9" />
<line x1="583.84" y1="71.05" x2="587.24" y2="71.05" stroke="#666" stroke-width="0.95" />
<rect x="582.04" y="86.42" width="7.00" height="75.78" fill="#c9c200" stroke="#000" stroke-width="1.3"/>
<line x1="585.54" y1="162.20" x2="585.54" y2="167.50" stroke="#1a1a1a" stroke-width="1.1" />
<text x="0" y="0" font-size="9.6" font-weight="bold" text-anchor="end" fill="#000" transform="translate(588.14,177.00) rotate(-45)">Metformin</text>
<line x1="598.78" y1="109.75" x2="598.78" y2="129.10" stroke="#666" stroke-width="0.9" />
<line x1="597.08" y1="109.75" x2="600.48" y2="109.75" stroke="#666" stroke-width="0.95" />
<rect x="595.28" y="129.70" width="7.00" height="32.50" fill="#15996a" stroke="#000" stroke-width="1.3"/>
<line x1="598.78" y1="162.20" x2="598.78" y2="167.50" stroke="#1a1a1a" stroke-width="1.1" />
<text x="0" y="0" font-size="9.6" font-weight="bold" text-anchor="end" fill="#000" transform="translate(601.38,177.00) rotate(-45)">Placebo</text>
<line x1="612.02" y1="101.61" x2="612.02" y2="124.52" stroke="#666" stroke-width="0.9" />
<line x1="610.32" y1="101.61" x2="613.72" y2="101.61" stroke="#666" stroke-width="0.95" />
<rect x="608.52" y="125.12" width="7.00" height="37.08" fill="#15996a" stroke="#000" stroke-width="1.3"/>
<line x1="612.02" y1="162.20" x2="612.02" y2="167.50" stroke="#1a1a1a" stroke-width="1.1" />
<text x="0" y="0" font-size="9.6" font-weight="bold" text-anchor="end" fill="#000" transform="translate(614.62,177.00) rotate(-45)">Metformin</text>
<line x1="625.26" y1="132.16" x2="625.26" y2="146.92" stroke="#666" stroke-width="0.9" />
<line x1="623.56" y1="132.16" x2="626.96" y2="132.16" stroke="#666" stroke-width="0.95" />
<rect x="621.76" y="147.52" width="7.00" height="14.68" fill="#0000c8" stroke="#000" stroke-width="1.3"/>
<line x1="625.26" y1="162.20" x2="625.26" y2="167.50" stroke="#1a1a1a" stroke-width="1.1" />
<text x="0" y="0" font-size="9.6" font-weight="bold" text-anchor="end" fill="#000" transform="translate(627.86,177.00) rotate(-45)">Placebo</text>
<line x1="638.50" y1="134.19" x2="638.50" y2="145.91" stroke="#666" stroke-width="0.9" />
<line x1="636.80" y1="134.19" x2="640.20" y2="134.19" stroke="#666" stroke-width="0.95" />
<rect x="635.00" y="146.51" width="7.00" height="15.69" fill="#0000c8" stroke="#000" stroke-width="1.3"/>
<line x1="638.50" y1="162.20" x2="638.50" y2="167.50" stroke="#1a1a1a" stroke-width="1.1" />
<text x="0" y="0" font-size="9.6" font-weight="bold" text-anchor="end" fill="#000" transform="translate(641.10,177.00) rotate(-45)">Metformin</text>
<line x1="651.74" y1="66.47" x2="651.74" y2="87.60" stroke="#666" stroke-width="0.9" />
<line x1="650.04" y1="66.47" x2="653.44" y2="66.47" stroke="#666" stroke-width="0.95" />
<rect x="648.24" y="88.20" width="7.00" height="74.00" fill="#ff4646" stroke="#000" stroke-width="1.3"/>
<line x1="651.74" y1="162.20" x2="651.74" y2="167.50" stroke="#1a1a1a" stroke-width="1.1" />
<text x="0" y="0" font-size="9.6" font-weight="bold" text-anchor="end" fill="#000" transform="translate(654.34,177.00) rotate(-45)">Placebo</text>
<line x1="664.98" y1="77.67" x2="664.98" y2="103.90" stroke="#666" stroke-width="0.9" />
<line x1="663.28" y1="77.67" x2="666.68" y2="77.67" stroke="#666" stroke-width="0.95" />
<rect x="661.48" y="104.50" width="7.00" height="57.70" fill="#ff0000" stroke="#000" stroke-width="1.3"/>
<line x1="664.98" y1="162.20" x2="664.98" y2="167.50" stroke="#1a1a1a" stroke-width="1.1" />
<text x="0" y="0" font-size="9.6" font-weight="bold" text-anchor="end" fill="#000" transform="translate(667.58,177.00) rotate(-45)">Metformin</text>
<line x1="678.22" y1="155.58" x2="678.22" y2="159.91" stroke="#666" stroke-width="0.9" />
<line x1="676.52" y1="155.58" x2="679.92" y2="155.58" stroke="#666" stroke-width="0.95" />
<rect x="674.72" y="160.51" width="7.00" height="1.69" fill="#000000" stroke="#000" stroke-width="1.3"/>
<line x1="678.22" y1="162.20" x2="678.22" y2="167.50" stroke="#1a1a1a" stroke-width="1.1" />
<text x="0" y="0" font-size="9.6" font-weight="bold" text-anchor="end" fill="#000" transform="translate(680.82,177.00) rotate(-45)">Placebo</text>
<line x1="691.46" y1="152.53" x2="691.46" y2="159.40" stroke="#666" stroke-width="0.9" />
<line x1="689.76" y1="152.53" x2="693.16" y2="152.53" stroke="#666" stroke-width="0.95" />
<rect x="687.96" y="160.00" width="7.00" height="2.20" fill="#000000" stroke="#000" stroke-width="1.3"/>
<line x1="691.46" y1="162.20" x2="691.46" y2="167.50" stroke="#1a1a1a" stroke-width="1.1" />
<text x="0" y="0" font-size="9.6" font-weight="bold" text-anchor="end" fill="#000" transform="translate(694.06,177.00) rotate(-45)">Metformin</text>
<line x1="704.70" y1="127.32" x2="704.70" y2="142.34" stroke="#666" stroke-width="0.9" />
<line x1="703.00" y1="127.32" x2="706.40" y2="127.32" stroke="#666" stroke-width="0.95" />
<rect x="701.20" y="142.94" width="7.00" height="19.26" fill="#a0a0a6" stroke="#000" stroke-width="1.3"/>
<line x1="704.70" y1="162.20" x2="704.70" y2="167.50" stroke="#1a1a1a" stroke-width="1.1" />
<text x="0" y="0" font-size="9.6" font-weight="bold" text-anchor="end" fill="#000" transform="translate(707.30,177.00) rotate(-45)">Placebo</text>
<line x1="717.94" y1="113.32" x2="717.94" y2="127.83" stroke="#666" stroke-width="0.9" />
<line x1="716.24" y1="113.32" x2="719.64" y2="113.32" stroke="#666" stroke-width="0.95" />
<rect x="714.44" y="128.43" width="7.00" height="33.77" fill="#a0a0a6" stroke="#000" stroke-width="1.3"/>
<line x1="717.94" y1="162.20" x2="717.94" y2="167.50" stroke="#1a1a1a" stroke-width="1.1" />
<text x="0" y="0" font-size="9.6" font-weight="bold" text-anchor="end" fill="#000" transform="translate(720.54,177.00) rotate(-45)">Metformin</text>
<line x1="731.18" y1="129.61" x2="731.18" y2="140.30" stroke="#666" stroke-width="0.9" />
<line x1="729.48" y1="129.61" x2="732.88" y2="129.61" stroke="#666" stroke-width="0.95" />
<rect x="727.68" y="140.90" width="7.00" height="21.30" fill="#a86e22" stroke="#000" stroke-width="1.3"/>
<line x1="731.18" y1="162.20" x2="731.18" y2="167.50" stroke="#1a1a1a" stroke-width="1.1" />
<text x="0" y="0" font-size="9.6" font-weight="bold" text-anchor="end" fill="#000" transform="translate(733.78,177.00) rotate(-45)">Placebo</text>
<line x1="744.42" y1="119.43" x2="744.42" y2="136.99" stroke="#666" stroke-width="0.9" />
<line x1="742.72" y1="119.43" x2="746.12" y2="119.43" stroke="#666" stroke-width="0.95" />
<rect x="740.92" y="137.59" width="7.00" height="24.61" fill="#a86e22" stroke="#000" stroke-width="1.3"/>
<line x1="744.42" y1="162.20" x2="744.42" y2="167.50" stroke="#1a1a1a" stroke-width="1.1" />
<text x="0" y="0" font-size="9.6" font-weight="bold" text-anchor="end" fill="#000" transform="translate(747.02,177.00) rotate(-45)">Metformin</text>
<polyline points="704.7,119 704.7,81.5 717.9,81.5 717.9,105.6" fill="none" stroke="#222" stroke-width="1.1"/>
<path d="M711.10,72.90L711.10,69.70M711.10,72.90L714.14,71.91M711.10,72.90L712.98,75.49M711.10,72.90L709.22,75.49M711.10,72.90L708.06,71.91" stroke="#111" stroke-width="1.7" stroke-linecap="butt" fill="none"/>
<rect x="567.9" y="223.35" width="10.1" height="2.3" fill="#c9c200" stroke="#000" stroke-width="1.35"/>
<text x="0" y="0" font-size="7.3" font-weight="normal" text-anchor="start" fill="#000" transform="translate(585.00,222.80) scale(1,1.07)" >Potatoes, bread, rice, pasta and other starchy</text>
<text x="0" y="0" font-size="7.3" font-weight="normal" text-anchor="start" fill="#000" transform="translate(585.00,231.40) scale(1,1.07)" >carbohydrate foods</text>
<rect x="567.9" y="241.15" width="10.1" height="2.3" fill="#15996a" stroke="#000" stroke-width="1.35"/>
<text x="0" y="0" font-size="7.3" font-weight="normal" text-anchor="start" fill="#000" transform="translate(585.00,244.30) scale(1,1.07)" >Fruit and vegetables</text>
<rect x="567.9" y="253.95" width="10.1" height="2.3" fill="#0000c8" stroke="#000" stroke-width="1.35"/>
<text x="0" y="0" font-size="7.3" font-weight="normal" text-anchor="start" fill="#000" transform="translate(585.00,257.10) scale(1,1.07)" >Dairy and alternatives</text>
<rect x="567.9" y="266.85" width="10.1" height="2.3" fill="#ff0000" stroke="#000" stroke-width="1.35"/>
<text x="0" y="0" font-size="7.3" font-weight="normal" text-anchor="start" fill="#000" transform="translate(585.00,270.00) scale(1,1.07)" >Beans, pulses, fish, eggs, meat and other protein</text>
<rect x="567.9" y="279.75" width="10.1" height="2.3" fill="#000000" stroke="#000" stroke-width="1.35"/>
<text x="0" y="0" font-size="7.3" font-weight="normal" text-anchor="start" fill="#000" transform="translate(585.00,282.90) scale(1,1.07)" >Oils and spreads</text>
<rect x="567.9" y="292.65" width="10.1" height="2.3" fill="#c8c8cc" stroke="#000" stroke-width="1.35"/>
<text x="0" y="0" font-size="7.3" font-weight="normal" text-anchor="start" fill="#000" transform="translate(585.00,295.80) scale(1,1.07)" >Processed foods high in fat, salt, and/or sugar</text>
<rect x="567.9" y="305.45" width="10.1" height="2.3" fill="#a86e22" stroke="#000" stroke-width="1.35"/>
<text x="0" y="0" font-size="7.3" font-weight="normal" text-anchor="start" fill="#000" transform="translate(585.00,308.60) scale(1,1.07)" >Coffee and tea</text>
</svg>
</body></html>
